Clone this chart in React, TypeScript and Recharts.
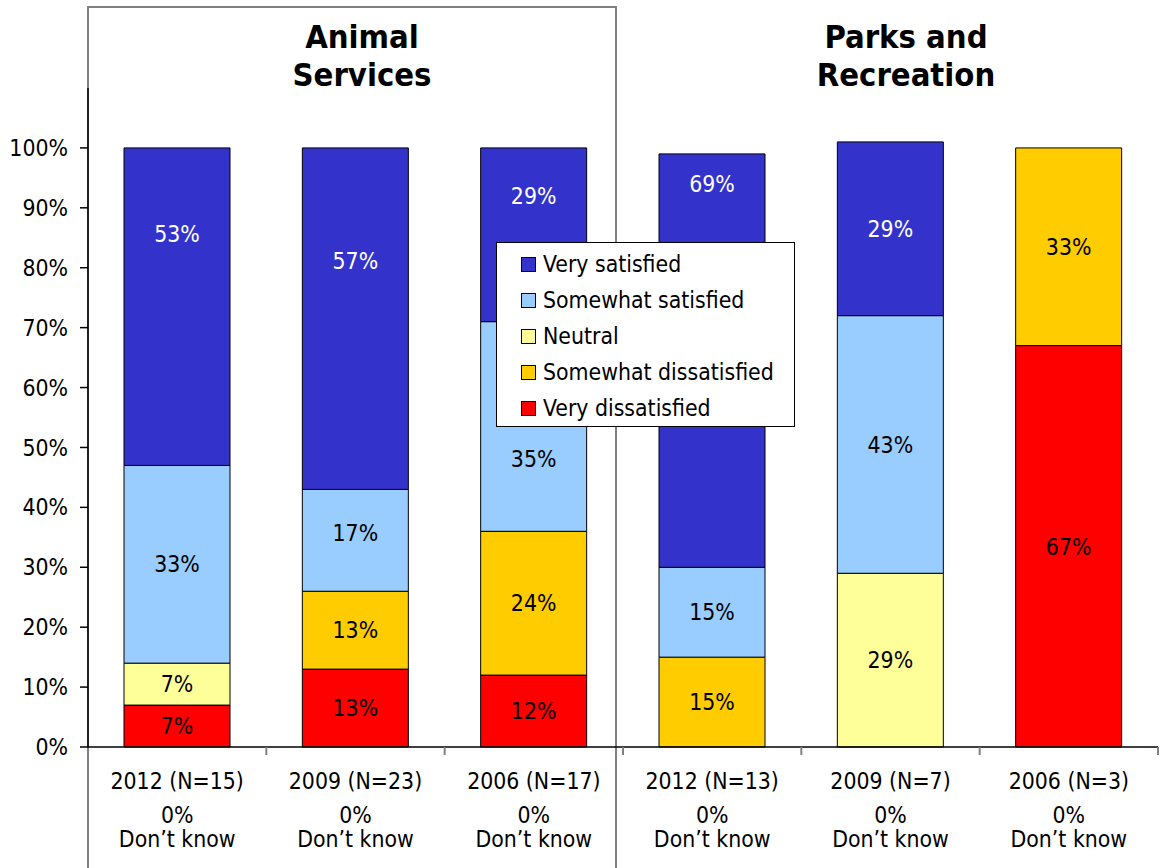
import { Bar, BarChart, LabelList, Legend, XAxis, YAxis } from "recharts";

const CATEGORIES = ["2012 (N=15)", "2009 (N=23)", "2006 (N=17)", "2012 (N=13)", "2009 (N=7)", "2006 (N=3)"];
const DONT_KNOW = [0, 0, 0, 0, 0, 0];
const VERY_SATISFIED = [53, 57, 29, 69, 29, 0];
const SOMEWHAT_SATISFIED = [33, 17, 35, 15, 43, 0];
const NEUTRAL = [7, 0, 0, 0, 29, 0];
const SOMEWHAT_DISSATISFIED = [0, 13, 24, 15, 0, 33];
const VERY_DISSATISFIED = [7, 13, 12, 0, 0, 67];
const Y_TICKS = [0, 10, 20, 30, 40, 50, 60, 70, 80, 90, 100];

const FONT = "'DejaVu Sans Condensed', 'DejaVu Sans', sans-serif";
const FS = 22.8;

// stacked bottom -> top
const SERIES = [
  { key: "vd", name: "Very dissatisfied", color: "#FF0000", values: VERY_DISSATISFIED, text: "#000" },
  { key: "sd", name: "Somewhat dissatisfied", color: "#FFCC00", values: SOMEWHAT_DISSATISFIED, text: "#000" },
  { key: "ne", name: "Neutral", color: "#FFFF99", values: NEUTRAL, text: "#000" },
  { key: "ss", name: "Somewhat satisfied", color: "#99CCFF", values: SOMEWHAT_SATISFIED, text: "#000" },
  { key: "vs", name: "Very satisfied", color: "#3333CC", values: VERY_SATISFIED, text: "#fff" },
];

const data = CATEGORIES.map((cat, i) => {
  const row: Record<string, string | number> = { cat, dk: DONT_KNOW[i] };
  SERIES.forEach((s) => (row[s.key] = s.values[i]));
  return row;
});

// labels that were moved by hand in the original (pixels)
const NUDGE: Record<string, number> = {
  "vs-0": -73,
  "vs-1": -58,
  "vs-2": -39,
  "vs-3": -177,
  "ss-1": -8,
  "ss-2": 32,
};

const makeLabel = (key: string, color: string) => (props: any) => {
  const vb = props.viewBox ?? props;
  const { x, y, width, height } = vb;
  const { value, index } = props;
  if (!value) return null;
  const cy = y + height / 2 + (NUDGE[`${key}-${index}`] ?? 0);
  return (
    <text x={x + width / 2} y={cy} dy="0.36em" textAnchor="middle" fill={color} fontSize={FS} fontFamily={FONT}>
      {value}%
    </text>
  );
};

const XTick = (props: any) => {
  const { x, y, payload, index } = props;
  const off = payload?.offset ?? 1070 / 12;
  return (
    <g>
      <line x1={x + off} y1={y} x2={x + off} y2={y + 8} stroke="#808080" strokeWidth={2} />
      <text textAnchor="middle" fontSize={FS} fontFamily={FONT} fill="#000">
        <tspan x={x} y={y + 42}>{payload.value}</tspan>
        <tspan x={x} y={y + 76}>{DONT_KNOW[index]}%</tspan>
        <tspan x={x} y={y + 100}>Don’t know</tspan>
      </text>
    </g>
  );
};

const LegendBox = () => (
  <div
    style={{
      width: 299,
      height: 185,
      border: "1px solid #000",
      background: "#fff",
      boxSizing: "border-box",
      paddingTop: 3,
      fontFamily: FONT,
      fontSize: FS,
    }}
  >
    {[...SERIES].reverse().map((s) => (
      <div key={s.key} style={{ display: "flex", alignItems: "center", height: 36 }}>
        <span
          style={{
            display: "inline-block",
            flex: "none",
            width: 13,
            height: 13,
            marginLeft: 24,
            marginRight: 7,
            background: s.color,
            border: "1px solid #000",
          }}
        />
        <span style={{ whiteSpace: "nowrap" }}>{s.name}</span>
      </div>
    ))}
  </div>
);

export default function App() {
  return (
    <div style={{ position: "absolute", left: 0, top: 0, width: 1160, height: 868, background: "#fff", overflow: "hidden" }}>
      <svg width={1160} height={868} style={{ position: "absolute", left: 0, top: 0 }}>
        <polyline points="88,900 88,7 616,7 616,900" fill="none" stroke="#808080" strokeWidth={2} />
        <g fontFamily={FONT} fontWeight="bold" fontSize={32.5} textAnchor="middle" fill="#000">
          <text x={362} y={48}>Animal</text>
          <text x={362} y={86}>Services</text>
          <text x={906} y={48}>Parks and</text>
          <text x={906} y={86}>Recreation</text>
        </g>
      </svg>
      <BarChart width={1160} height={868} data={data} margin={{ top: 88, right: 2, bottom: 0, left: 8 }} barSize={106}>
        <YAxis
          type="number"
          domain={[0, 110]}
          ticks={Y_TICKS}
          width={80}
          tickSize={8}
          tickMargin={12}
          tickFormatter={(v) => `${v}%`}
          tick={{ fontSize: FS, fontFamily: FONT, fill: "#000" }}
          axisLine={{ stroke: "#000", strokeWidth: 1.5 }}
          tickLine={{ stroke: "#000", strokeWidth: 1.5 }}
        />
        <XAxis
          dataKey="cat"
          height={121}
          tickSize={0}
          tickMargin={0}
          interval={0}
          tick={<XTick />}
          axisLine={{ stroke: "#000", strokeWidth: 1.5 }}
          tickLine={false}
        />
        <Legend
          verticalAlign="middle"
          layout="horizontal"
          content={() => <LegendBox />}
          wrapperStyle={{ left: 496, top: 242, width: 299, height: 185 }}
        />
        {SERIES.map((s) => (
          <Bar key={s.key} dataKey={s.key} name={s.name} stackId="a" fill={s.color} stroke="#000" strokeWidth={1} isAnimationActive={false}>
            <LabelList dataKey={s.key} content={makeLabel(s.key, s.text)} />
          </Bar>
        ))}
      </BarChart>
    </div>
  );
}
